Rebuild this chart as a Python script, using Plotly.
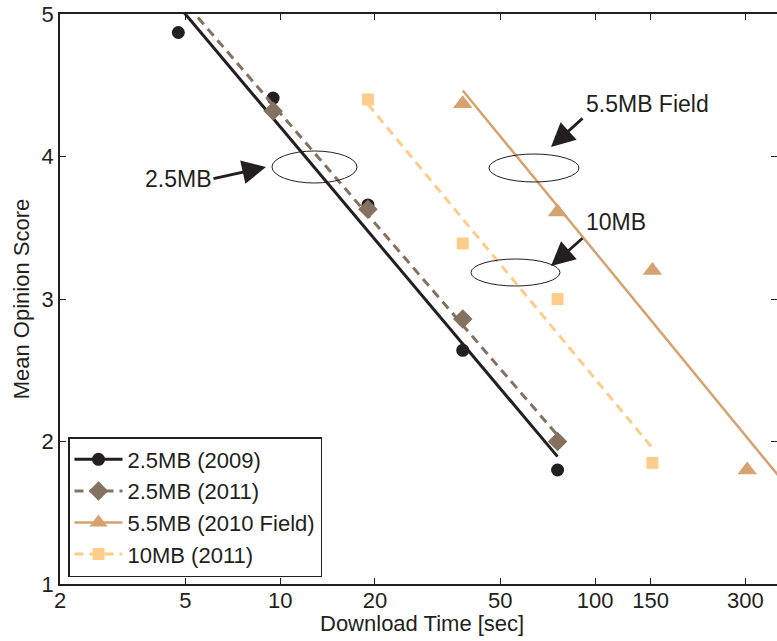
import numpy as np
import plotly.graph_objects as go

# ---- data ----
x_25mb_2009 = [4.75, 9.5, 19, 38, 76]
y_25mb_2009 = [4.87, 4.41, 3.66, 2.64, 1.80]

x_25mb_2011 = [9.5, 19, 38, 76]
y_25mb_2011 = [4.32, 3.63, 2.86, 2.00]

x_55mb_2010 = [38, 76, 152, 304]
y_55mb_2010 = [4.37, 3.61, 3.20, 1.80]

x_10mb_2011 = [19, 38, 76, 152]
y_10mb_2011 = [4.40, 3.39, 3.00, 1.85]

# x-span over which each log-linear fit is drawn
fit_span_25mb_2009 = [4.75, 76]
fit_span_25mb_2011 = [4.75, 76]
fit_span_55mb_2010 = [38, 608]
fit_span_10mb_2011 = [19, 152]

series_names = ["2.5MB (2009)", "2.5MB (2011)", "5.5MB (2010 Field)", "10MB (2011)"]
x_tick_vals = [2, 5, 10, 20, 50, 100, 150, 300]
x_tick_text = ["2", "5", "10", "20", "50", "100", "150", "300"]
y_tick_vals = [1, 2, 3, 4, 5]

INK = "#231f20"
C_BLACK = "#231f20"
C_BROWN = "#84715f"
C_TAN = "#d6a26f"
C_PEACH = "#fecd8c"
FONT = "Liberation Sans, Arial, Helvetica, sans-serif"

W, H = 777, 641
PLOT_L, PLOT_R, PLOT_T, PLOT_B = 60, 777, 14, 584   # pixels of the plot area
ML, MR, MT, MB = PLOT_L, W - PLOT_R, PLOT_T, H - PLOT_B

series = [
    dict(name=series_names[0], x=x_25mb_2009, y=y_25mb_2009, span=fit_span_25mb_2009,
         color=C_BLACK, dash="solid", symbol="circle", size=13, lw=3),
    dict(name=series_names[1], x=x_25mb_2011, y=y_25mb_2011, span=fit_span_25mb_2011,
         color=C_BROWN, dash="9px,6px", symbol="diamond", size=15, lw=3),
    dict(name=series_names[2], x=x_55mb_2010, y=y_55mb_2010, span=fit_span_55mb_2010,
         color=C_TAN, dash="solid", symbol="triangle-up", size=17, lw=2.5),
    dict(name=series_names[3], x=x_10mb_2011, y=y_10mb_2011, span=fit_span_10mb_2011,
         color=C_PEACH, dash="9px,6px", symbol="square", size=12, lw=3),
]

fig = go.Figure()
for s in series:
    b, a = np.polyfit(np.log10(s["x"]), s["y"], 1)
    xs = np.array(s["span"], dtype=float)
    ys = a + b * np.log10(xs)
    fig.add_trace(go.Scatter(x=xs, y=ys, mode="lines", showlegend=False,
                             line=dict(color=s["color"], width=s["lw"], dash=s["dash"]),
                             hoverinfo="skip"))
    fig.add_trace(go.Scatter(x=s["x"], y=s["y"], mode="markers", showlegend=False,
                             marker=dict(symbol=s["symbol"], size=s["size"], color=s["color"]),
                             cliponaxis=False))
# legend entries
for s in series:
    fig.add_trace(go.Scatter(x=[None], y=[None], mode="lines+markers", name=s["name"],
                             line=dict(color=s["color"], width=s["lw"], dash=s["dash"]),
                             marker=dict(symbol=s["symbol"], size=s["size"], color=s["color"])))

pw = PLOT_R - PLOT_L
ph = PLOT_B - PLOT_T


def px2paper(px, py):
    return (px - PLOT_L) / pw, (PLOT_B - py) / ph


shapes = []
for (x0, y0, x1, y1) in [(272, 151, 357, 183), (489, 154, 579, 182), (471, 259, 560, 286)]:
    a0, b0 = px2paper(x0, y1)
    a1, b1 = px2paper(x1, y0)
    shapes.append(dict(type="circle", xref="paper", yref="paper", x0=a0, y0=b0, x1=a1, y1=b1,
                       line=dict(color=INK, width=1)))

annotations = []
for (txt, cx, cy) in [("2.5MB", 178, 179), ("5.5MB Field", 647, 104), ("10MB", 616, 222)]:
    ax_, ay_ = px2paper(cx, cy)
    annotations.append(dict(text=txt, x=ax_, y=ay_, xref="paper", yref="paper",
                            showarrow=False, xanchor="center", yanchor="middle",
                            font=dict(size=23, color=INK, family=FONT)))
for (hx, hy, tx, ty) in [(266, 167, 212, 179), (551, 147, 584, 117), (551, 266, 584, 237)]:
    px_, py_ = px2paper(hx, hy)
    annotations.append(dict(text="", x=px_, y=py_, xref="paper", yref="paper",
                            showarrow=True, ax=tx - hx, ay=ty - hy,
                            arrowhead=2, arrowsize=1.7, arrowwidth=2.8, arrowcolor=INK,
                            standoff=0, startstandoff=0))
# x-axis title
tx_, ty_ = px2paper(422, 623)
annotations.append(dict(text="Download Time [sec]", x=tx_, y=ty_, xref="paper", yref="paper",
                        showarrow=False, xanchor="center", yanchor="middle",
                        font=dict(size=22, color=INK, family=FONT)))

fig.update_layout(
    width=W, height=H,
    margin=dict(l=ML, r=MR, t=MT, b=MB, autoexpand=False),
    paper_bgcolor="white", plot_bgcolor="white",
    font=dict(family=FONT, size=22, color=INK),
    shapes=shapes, annotations=annotations,
    legend=dict(x=(68 - PLOT_L) / pw, y=(PLOT_B - 577) / ph, xanchor="left", yanchor="bottom",
                bgcolor="white", bordercolor=INK, borderwidth=1.5,
                font=dict(size=22, color=INK, family=FONT),
                tracegroupgap=0, itemwidth=48),
)
fig.update_xaxes(type="log", range=[np.log10(2), np.log10(378)],
                 tickvals=x_tick_vals, ticktext=x_tick_text,
                 ticks="inside", ticklen=6, tickcolor=INK, tickwidth=1,
                 ticklabelstandoff=-4, ticklabeloverflow="allow",
                 showline=True, linecolor=INK, linewidth=1.5, mirror="ticks",
                 showgrid=False, zeroline=False, automargin=False)
fig.update_yaxes(range=[1, 5], tickvals=y_tick_vals,
                 ticks="inside", ticklen=6, tickcolor=INK, tickwidth=1,
                 ticklabeloverflow="allow",
                 showline=True, linecolor=INK, linewidth=1.5, mirror="ticks",
                 showgrid=False, zeroline=False, automargin=False,
                 title=dict(text="Mean Opinion Score", standoff=6,
                            font=dict(size=22, color=INK, family=FONT)))

fig.write_html(
    "out.html",
    config={"displayModeBar": False},
    post_script="document.body.style.margin='0';document.body.style.overflow='hidden';",
)
